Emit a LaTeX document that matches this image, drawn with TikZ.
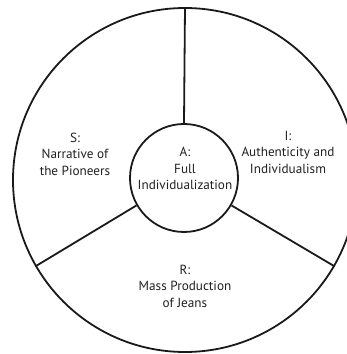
\documentclass[tikz,border=0pt]{standalone}
\usepackage{fontspec}
\setmainfont{PT Sans}
\usepackage{tikz}
\usetikzlibrary{positioning}
\definecolor{cLine}{HTML}{1A1A1A}
\definecolor{cText}{HTML}{231F20}
\tikzset{
  ring/.style={circle, draw=cLine, line width=1.8pt, inner sep=0pt, fill=none},
  spoke/.style={draw=cLine, line width=1.8pt},
  lbl/.style={font=\fontsize{13.2}{16.5}\selectfont, text=cText, align=center, inner sep=0pt}
}
\begin{document}
\begin{tikzpicture}[x=1pt, y=1pt]
\clip (0,0) rectangle (347,354);
% outer ring and core (units: px of the reference, y up)
\node[ring, minimum size=344pt] (outer) at (185,174) {};
\node[ring, minimum size=108pt] (core) at (184,176) {};
% spokes
\draw[spoke] (core.90)  -- (outer.90);
\draw[spoke] (core.210) -- (outer.210);
\draw[spoke] (core.330) -- (outer.330);
% labels
\node[lbl] (lblA) at (185,185.5) {A:\\Full\\Individualization};
\node[lbl] (lblS) at (75,200)  {S:\\Narrative of\\the Pioneers};
\node[lbl] (lblI) at (288,202) {I:\\Authenticity and\\Individualism};
\node[lbl] (lblR) at (185,68)  {R:\\Mass Production\\of Jeans};
\end{tikzpicture}
\end{document}
